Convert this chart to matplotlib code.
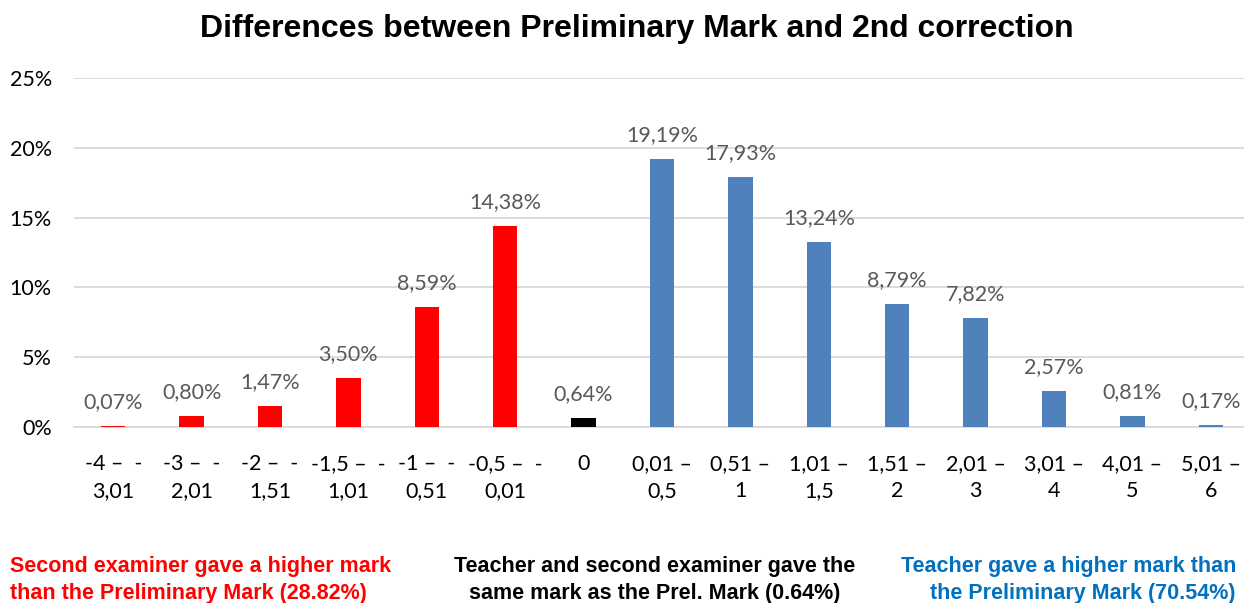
import matplotlib
matplotlib.use("Agg")
import matplotlib.pyplot as plt
from matplotlib.ticker import FuncFormatter

categories = ["-4 –  -\n3,01", "-3 –  -\n2,01", "-2 –  -\n1,51", "-1,5 –  -\n1,01", "-1 –  -\n0,51",
              "-0,5 –  -\n0,01", "0", "0,01 –\n0,5", "0,51 –\n1", "1,01 –\n1,5", "1,51 –\n2",
              "2,01 –\n3", "3,01 –\n4", "4,01 –\n5", "5,01 –\n6"]
values = [0.07, 0.80, 1.47, 3.50, 8.59, 14.38, 0.64, 19.19, 17.93, 13.24, 8.79, 7.82, 2.57, 0.81, 0.17]
groups = ["neg"] * 6 + ["zero"] + ["pos"] * 8
group_colors = {"neg": "#FF0000", "zero": "#000000", "pos": "#4F81BD"}
y_ticks = [0, 5, 10, 15, 20, 25]

body_font = ["Lato", "DejaVu Sans"]
bold_font = ["Liberation Sans", "DejaVu Sans"]
FS = 15.5

fig = plt.figure(figsize=(12.44, 6.03), dpi=100)
ax = fig.add_axes([74 / 1244, 1 - 427 / 603, 1176 / 1244, 349 / 603])

x = list(range(len(categories)))
colors = [group_colors[g] for g in groups]
ax.bar(x, values, width=0.31, color=colors, zorder=3)

for xi, v in zip(x, values):
    ax.annotate(f"{v:.2f}%".replace(".", ","), (xi, v), xytext=(0, 10), textcoords="offset points",
                ha="center", va="bottom", fontsize=FS, color="#595959", family=body_font)

ax.set_xlim(-0.5, len(categories) - 0.5)
ax.set_ylim(0, 25)
ax.set_yticks(y_ticks)
ax.yaxis.set_major_formatter(FuncFormatter(lambda v, p: f"{v:.0f}%"))
ax.set_xticks(x)
ax.set_xticklabels(categories, fontsize=FS, family=body_font, linespacing=1.45)
for lab in ax.get_yticklabels():
    lab.set_fontsize(FS)
    lab.set_family(body_font)
ax.tick_params(axis="both", length=0, colors="#000000")
ax.tick_params(axis="x", pad=19.5)
ax.tick_params(axis="y", pad=16)
ax.grid(axis="y", color="#D9D9D9", linewidth=1.3, zorder=0)
for s in ["top", "right", "left"]:
    ax.spines[s].set_visible(False)
ax.spines["bottom"].set_color("#D9D9D9")
ax.spines["bottom"].set_linewidth(1.3)

fig.text(637 / 1244, 1 - 29 / 603, "Differences between Preliminary Mark and 2nd correction",
         ha="center", va="center", fontsize=23, fontweight="bold", family=bold_font)

fig.text(10 / 1244, 1 - 580 / 603, "Second examiner gave a higher mark\nthan the Preliminary Mark (28.82%)",
         ha="left", va="center", fontsize=15.5, fontweight="bold", color="#FF0000",
         family=bold_font, linespacing=1.38)
fig.text(655 / 1244, 1 - 580 / 603, "Teacher and second examiner gave the\nsame mark as the Prel. Mark (0.64%)",
         ha="center", va="center", fontsize=15.5, fontweight="bold", color="#000000",
         family=bold_font, linespacing=1.38, multialignment="center")
fig.text(1236 / 1244, 1 - 580 / 603, "Teacher gave a higher mark than\nthe Preliminary Mark (70.54%)",
         ha="right", va="center", fontsize=15.5, fontweight="bold", color="#0070C0",
         family=bold_font, linespacing=1.38, multialignment="right")

fig.savefig("out.png", dpi=100)
